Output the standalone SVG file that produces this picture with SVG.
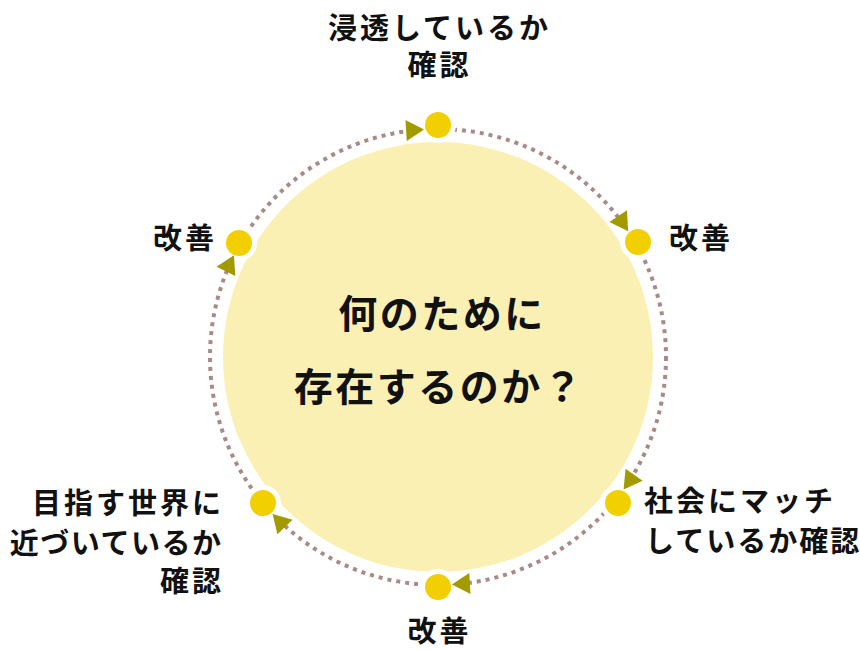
<svg xmlns="http://www.w3.org/2000/svg" width="860" height="650" viewBox="0 0 860 650">
  <defs>
    <style>
      text { font-family: "Noto Sans CJK JP", "Noto Sans", sans-serif; font-weight: 700; fill: #111; }
      .lbl { font-size: 29px; letter-spacing: 3px; }
      .ctr { font-size: 39px; letter-spacing: 2.5px; }
      .ring { fill: none; stroke: #a88a88; stroke-width: 4; stroke-dasharray: 4 5; }
      .halo { fill: #ffffff; }
      .dot { fill: #f2cf00; }
      .arr { fill: #a39a00; }
    </style>
    <polygon id="arrow" points="666,357 655.5,339 676.5,339"/>
  </defs>

  <g id="core">
    <circle cx="438" cy="357" r="215" fill="#faf0b4"/>
    <text class="ctr" x="442" y="328" text-anchor="middle">何のために</text>
    <text class="ctr" x="439" y="401" text-anchor="middle">存在するのか？</text>
  </g>

  <g id="connectors">
    <circle class="ring" cx="438" cy="357" r="228"/>
  </g>

  <g id="halos">
    <circle class="halo" cx="438" cy="125" r="18"/>
    <circle class="halo" cx="638" cy="242" r="18"/>
    <circle class="halo" cx="618" cy="503" r="18"/>
    <circle class="halo" cx="438" cy="587" r="18"/>
    <circle class="halo" cx="263" cy="503" r="18"/>
    <circle class="halo" cx="239" cy="243" r="18"/>
  </g>

  <g id="arrows" class="arr">
    <use href="#arrow" transform="rotate(-93.5 438 357)"/>
    <use href="#arrow" transform="rotate(-33.5 438 357)"/>
    <use href="#arrow" transform="rotate(35.5 438 357)"/>
    <use href="#arrow" transform="rotate(86.5 438 357)"/>
    <use href="#arrow" transform="rotate(136.5 438 357)"/>
    <use href="#arrow" transform="rotate(206.5 438 357)"/>
  </g>

  <g id="node-top">
    <circle class="dot" cx="438" cy="125" r="13"/>
    <text class="lbl" x="439.5" y="39" text-anchor="middle">浸透しているか</text>
    <text class="lbl" x="439.5" y="76" text-anchor="middle">確認</text>
  </g>
  <g id="node-upper-right">
    <circle class="dot" cx="638" cy="242" r="13"/>
    <text class="lbl" x="669" y="249">改善</text>
  </g>
  <g id="node-lower-right">
    <circle class="dot" cx="618" cy="503" r="13"/>
    <text class="lbl" x="644" y="512">社会にマッチ</text>
    <text class="lbl" x="645" y="552" style="letter-spacing:2px">しているか確認</text>
  </g>
  <g id="node-bottom">
    <circle class="dot" cx="438" cy="587" r="13"/>
    <text class="lbl" x="439.5" y="642" text-anchor="middle">改善</text>
  </g>
  <g id="node-lower-left">
    <circle class="dot" cx="263" cy="503" r="13"/>
    <text class="lbl" x="224" y="514" text-anchor="end">目指す世界に</text>
    <text class="lbl" x="222.5" y="554" text-anchor="end" style="letter-spacing:1.5px">近づいているか</text>
    <text class="lbl" x="224" y="592" text-anchor="end">確認</text>
  </g>
  <g id="node-upper-left">
    <circle class="dot" cx="239" cy="243" r="13"/>
    <text class="lbl" x="153" y="249">改善</text>
  </g>
</svg>
